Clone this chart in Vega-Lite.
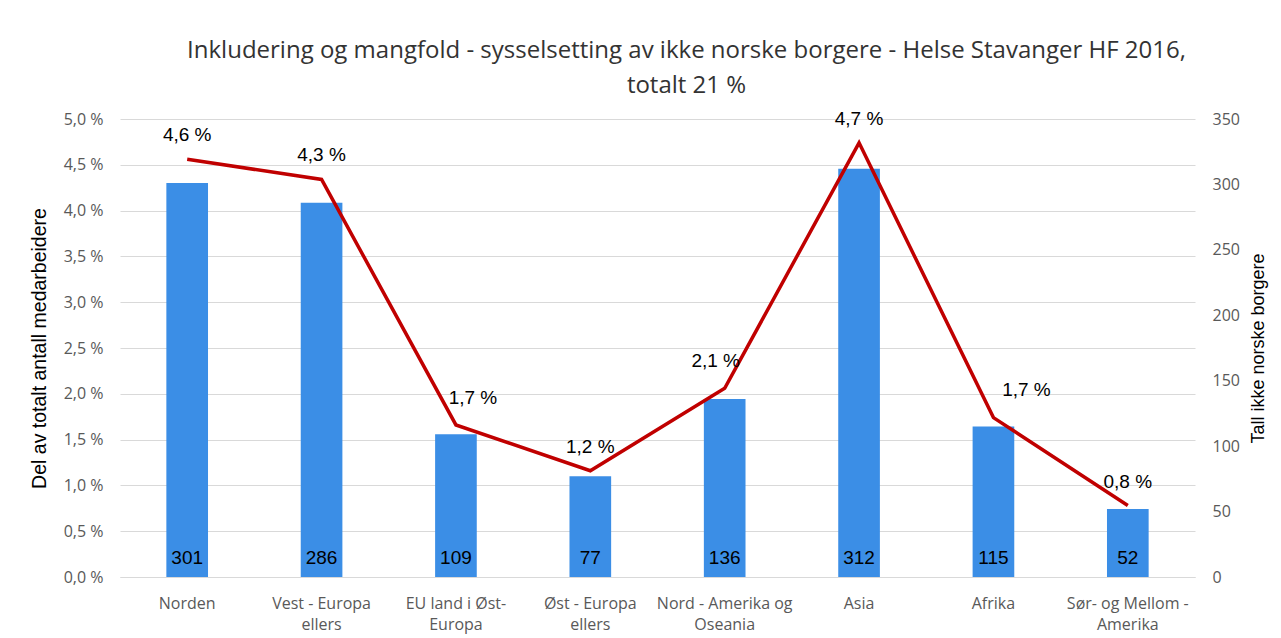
{
  "$schema": "https://vega.github.io/schema/vega-lite/v6.json",
  "width": 1075,
  "height": 458,
  "autosize": {"type": "none"},
  "padding": {"left": 120, "top": 119, "right": 86, "bottom": 61},
  "background": "white",
  "config": {
    "locale": {"number": {"decimal": ",", "thousands": " ", "grouping": [3], "currency": ["", " kr"], "percent": " %"}},
    "view": {"stroke": null},
    "axis": {"labelFont": "Open Sans", "titleFont": "Liberation Sans"}
  },
  "title": {
    "text": ["Inkludering og mangfold - sysselsetting av ikke norske borgere - Helse Stavanger HF 2016,", "totalt 21 %"],
    "font": "Open Sans",
    "fontSize": 24,
    "fontWeight": "normal",
    "color": "#333333",
    "anchor": "middle",
    "dx": 29,
    "offset": 12,
    "lineHeight": 35
  },
  "data": {
    "values": [
      {"region": "Norden", "count": 301, "pct": 0.0456},
      {"region": "Vest - Europa|ellers", "count": 286, "pct": 0.0434},
      {"region": "EU land i Øst-|Europa", "count": 109, "pct": 0.0166},
      {"region": "Øst - Europa|ellers", "count": 77, "pct": 0.0116},
      {"region": "Nord - Amerika og|Oseania", "count": 136, "pct": 0.0206},
      {"region": "Asia", "count": 312, "pct": 0.0474},
      {"region": "Afrika", "count": 115, "pct": 0.0174},
      {"region": "Sør- og Mellom -|Amerika", "count": 52, "pct": 0.0078}
    ]
  },
  "encoding": {
    "x": {
      "field": "region",
      "type": "nominal",
      "sort": null,
      "scale": {"paddingInner": 0.69, "paddingOuter": 0.345},
      "axis": {
        "title": null,
        "labelAngle": 0,
        "labelExpr": "split(datum.label, '|')",
        "labelFontSize": 16,
        "labelColor": "#595959",
        "labelPadding": 18,
        "labelLineHeight": 21,
        "labelBaseline": "top",
        "ticks": false,
        "domain": true,
        "domainColor": "#d9d9d9",
        "domainWidth": 1
      }
    }
  },
  "layer": [
    {
      "encoding": {
        "y": {
          "field": "count",
          "type": "quantitative",
          "scale": {"domain": [0, 350], "nice": false},
          "axis": {
            "orient": "right",
            "values": [0, 50, 100, 150, 200, 250, 300, 350],
            "grid": false,
            "domain": false,
            "ticks": false,
            "labelPadding": 17,
            "labelFontSize": 16,
            "labelColor": "#595959",
            "title": "Tall ikke norske borgere",
            "titleFontSize": 18,
            "titleFontWeight": "normal",
            "titleColor": "#000000",
            "titleAngle": 270,
            "titlePadding": 28
          }
        }
      },
      "layer": [
        {"mark": {"type": "bar", "color": "#3B8EE6"}},
        {
          "mark": {"type": "text", "font": "Liberation Sans", "fontSize": 19, "color": "#000000", "dy": -13, "baseline": "alphabetic"},
          "encoding": {"y": {"datum": 0}, "text": {"field": "count", "type": "quantitative"}}
        }
      ]
    },
    {
      "encoding": {
        "y": {
          "field": "pct",
          "type": "quantitative",
          "scale": {"domain": [0, 0.05], "nice": false},
          "axis": {
            "orient": "left",
            "values": [0, 0.005, 0.01, 0.015, 0.02, 0.025, 0.03, 0.035, 0.04, 0.045, 0.05],
            "format": ".1%",
            "grid": true,
            "gridColor": "#d9d9d9",
            "domain": false,
            "ticks": false,
            "labelPadding": 17,
            "labelFontSize": 16,
            "labelColor": "#595959",
            "title": "Del av totalt antall medarbeidere",
            "titleFontSize": 19.5,
            "titleFontWeight": "normal",
            "titleColor": "#000000",
            "titlePadding": 14
          }
        }
      },
      "layer": [
        {"mark": {"type": "line", "color": "#C00000", "strokeWidth": 3.5}},
        {
          "transform": [{"filter": "indexof(['Norden','Vest - Europa|ellers','Øst - Europa|ellers','Asia','Sør- og Mellom -|Amerika'], datum.region) >= 0"}],
          "mark": {"type": "text", "font": "Liberation Sans", "fontSize": 19, "color": "#000000", "dy": -18, "baseline": "alphabetic"},
          "encoding": {"text": {"field": "pct", "type": "quantitative", "format": ".1%"}}
        },
        {
          "transform": [{"filter": "datum.region == 'EU land i Øst-|Europa'"}],
          "mark": {"type": "text", "font": "Liberation Sans", "fontSize": 19, "color": "#000000", "dx": 17, "dy": -21, "baseline": "alphabetic"},
          "encoding": {"text": {"field": "pct", "type": "quantitative", "format": ".1%"}}
        },
        {
          "transform": [{"filter": "datum.region == 'Nord - Amerika og|Oseania'"}],
          "mark": {"type": "text", "font": "Liberation Sans", "fontSize": 19, "color": "#000000", "dx": -9, "dy": -21, "baseline": "alphabetic"},
          "encoding": {"text": {"field": "pct", "type": "quantitative", "format": ".1%"}}
        },
        {
          "transform": [{"filter": "datum.region == 'Afrika'"}],
          "mark": {"type": "text", "font": "Liberation Sans", "fontSize": 19, "color": "#000000", "dx": 33, "dy": -22, "baseline": "alphabetic"},
          "encoding": {"text": {"field": "pct", "type": "quantitative", "format": ".1%"}}
        }
      ]
    }
  ],
  "resolve": {"scale": {"y": "independent"}}
}
